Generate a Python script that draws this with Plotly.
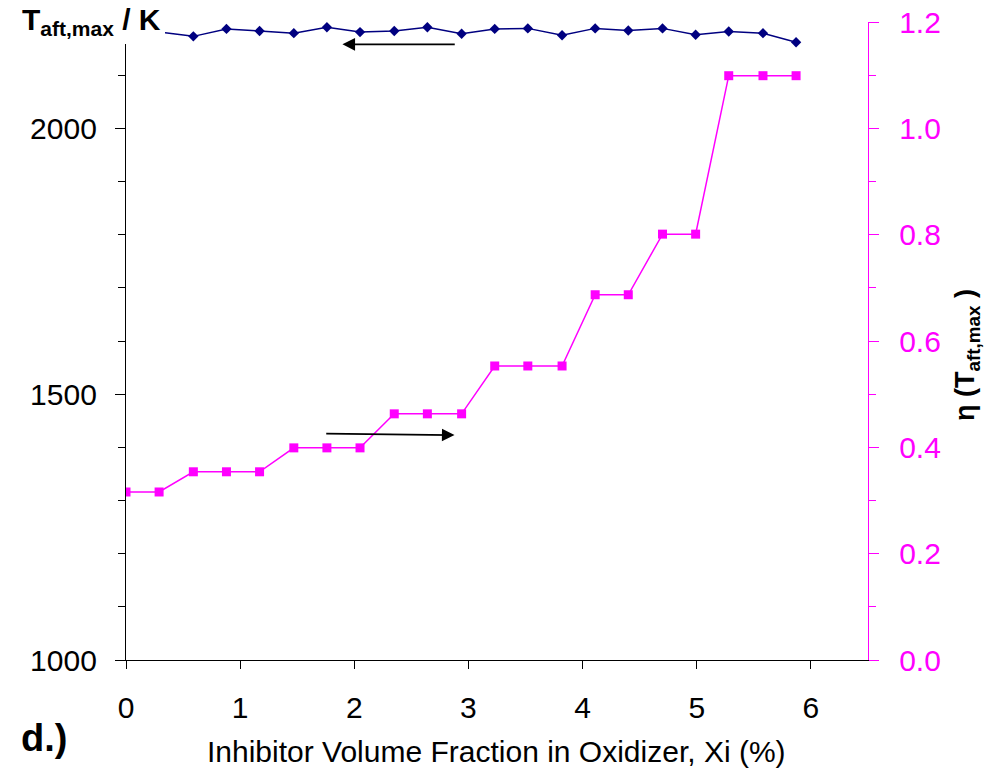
import plotly.graph_objects as go

# Inhibitor volume fraction (%)
xi = [0.00, 0.29, 0.59, 0.88, 1.17, 1.47, 1.76, 2.05, 2.35, 2.64, 2.94,
      3.23, 3.52, 3.82, 4.11, 4.40, 4.70, 4.99, 5.28, 5.58, 5.87]
# Maximum adiabatic flame temperature (K) - left axis
t_aft_max = [2178, 2181, 2173, 2187, 2183, 2179, 2190, 2181, 2183, 2190, 2178,
             2187, 2188, 2175, 2188, 2184, 2188, 2176, 2182, 2179, 2162]
# eta(T_aft,max) - right axis
eta = [0.316, 0.316, 0.354, 0.354, 0.354, 0.399, 0.399, 0.399, 0.463, 0.463, 0.463,
       0.553, 0.553, 0.553, 0.687, 0.687, 0.801, 0.801, 1.099, 1.099, 1.099]

x_ticks = [0, 1, 2, 3, 4, 5, 6]
left_ticks = [1000, 1500, 2000]
right_ticks = [0.0, 0.2, 0.4, 0.6, 0.8, 1.0, 1.2]

# arrow indicators (tail -> head)
left_arrow = dict(x_tail=2.893, x_head=1.896, y=2158)
right_arrow = dict(x_tail=1.741, y_tail=0.426, x_head=2.878, y_head=0.423)

FONT = "Liberation Sans, Arial, sans-serif"
MAGENTA = "#FF00FF"
NAVY = "#000080"

fig = go.Figure()
fig.add_trace(go.Scatter(
    x=xi, y=t_aft_max, mode="lines+markers",
    line=dict(color=NAVY, width=1.5),
    marker=dict(symbol="diamond", size=8, color=NAVY),
    yaxis="y", showlegend=False))
fig.add_trace(go.Scatter(
    x=xi, y=eta, mode="lines+markers",
    line=dict(color=MAGENTA, width=1.5),
    marker=dict(symbol="square", size=9, color=MAGENTA),
    yaxis="y2", showlegend=False))

fig.update_layout(
    width=1001, height=771,
    margin=dict(l=126, r=133, t=22, b=111),
    paper_bgcolor="white", plot_bgcolor="white",
    font=dict(family=FONT, size=30, color="black"),
    xaxis=dict(range=[0, 6.5], tickvals=x_ticks, showgrid=False, zeroline=False,
               automargin=False,
               showline=True, linecolor="black", linewidth=1.3,
               ticks="outside", ticklen=8, tickcolor="black", tickwidth=1.3,
               ticklabelstandoff=13, tickfont=dict(size=30)),
    yaxis=dict(range=[1000, 2200], tickvals=left_ticks, showgrid=False, zeroline=False,
               automargin=False,
               showline=True, linecolor="black", linewidth=1.3,
               ticks="outside", ticklen=10, tickcolor="black", tickwidth=1.3,
               ticklabelstandoff=12, tickfont=dict(size=30),
               minor=dict(dtick=100, ticks="outside", ticklen=7, tickcolor="black", tickwidth=1.3)),
    yaxis2=dict(range=[0, 1.2], tickvals=right_ticks, tickformat=".1f",
                overlaying="y", side="right", showgrid=False, zeroline=False,
                automargin=False,
                showline=True, linecolor=MAGENTA, linewidth=1.3,
                ticks="outside", ticklen=10, tickcolor=MAGENTA, tickwidth=1.3,
                ticklabelstandoff=14, tickfont=dict(size=30, color=MAGENTA),
                minor=dict(dtick=0.1, ticks="outside", ticklen=7, tickcolor=MAGENTA, tickwidth=1.3)),
)

# white mask behind the left axis title (covers top of left axis and first points)
fig.add_shape(type="rect", xref="paper", yref="paper",
              x0=-0.17, x1=0.0526, y0=0.9655, y1=1.05,
              fillcolor="white", line=dict(width=0), layer="above")

annotations = [
    dict(text="<b>T<sub>aft,max</sub> / K</b>", xref="paper", yref="paper",
         x=-0.143, y=1.001, xanchor="left", yanchor="middle", showarrow=False,
         font=dict(size=30, color="black")),
    dict(text="<b>η (T<sub>aft,max</sub> )</b>", xref="paper", yref="paper",
         x=1.1334, y=0.478, xanchor="center", yanchor="middle", textangle=-90,
         showarrow=False, font=dict(size=27, color="black")),
    dict(text="Inhibitor Volume Fraction in Oxidizer, Xi (%)", xref="paper", yref="paper",
         x=0.4987, y=-0.144, xanchor="center", yanchor="middle", showarrow=False,
         font=dict(size=30, color="black")),
    dict(text="<b>d.)</b>", xref="paper", yref="paper",
         x=-0.1105, y=-0.1223, xanchor="center", yanchor="middle", showarrow=False,
         font=dict(size=38, color="black")),
    dict(text="", x=left_arrow["x_head"], y=left_arrow["y"], xref="x", yref="y",
         ax=left_arrow["x_tail"], ay=left_arrow["y"], axref="x", ayref="y",
         showarrow=True, arrowhead=2, arrowsize=1.4, arrowwidth=1.8, arrowcolor="black",
         standoff=0, startstandoff=0),
    dict(text="", x=right_arrow["x_head"], y=right_arrow["y_head"], xref="x", yref="y2",
         ax=right_arrow["x_tail"], ay=right_arrow["y_tail"], axref="x", ayref="y2",
         showarrow=True, arrowhead=2, arrowsize=1.4, arrowwidth=1.8, arrowcolor="black",
         standoff=0, startstandoff=0),
]
fig.update_layout(annotations=annotations)

fig.write_html("out.html")
